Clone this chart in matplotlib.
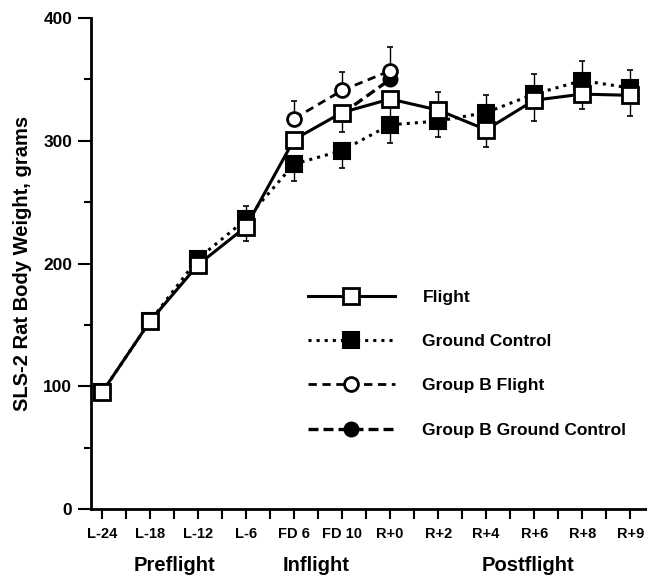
import numpy as np
import matplotlib
matplotlib.use("Agg")
import matplotlib.pyplot as plt
from matplotlib.ticker import MultipleLocator

plt.rcParams['font.family'] = ['Liberation Sans', 'DejaVu Sans']
plt.rcParams['font.weight'] = 'bold'

# data
days = ["L-24", "L-18", "L-12", "L-6", "FD 6", "FD 10", "R+0",
        "R+2", "R+4", "R+6", "R+8", "R+9"]
flight = [95, 153, 199, 230, 301, 323, 334, 325, 309, 333, 338, 337]
ground = [95, 153, 204, 236, 281, 292, 313, 316, 323, 338, 349, 343]
gb_flight = [np.nan] * 4 + [318, 341, 357] + [np.nan] * 5
gb_ground = [np.nan] * 5 + [322, 350] + [np.nan] * 5

flight_lo = [0, 0, 0, 12, 0, 16, 20, 0, 14, 17, 12, 17]
flight_hi = [0, 0, 0, 0, 0, 0, 0, 15, 0, 0, 0, 0]
ground_lo = [0, 0, 0, 0, 14, 14, 15, 13, 0, 0, 0, 0]
ground_hi = [0, 0, 0, 11, 0, 0, 0, 0, 14, 16, 16, 15]
gb_flight_hi = [0] * 4 + [14, 15, 19] + [0] * 5

phases = ["Preflight", "Inflight", "Postflight"]
phase_x = [1.5, 4.46, 8.88]

x = np.arange(len(days))

fig = plt.figure(figsize=(6.47, 5.78), dpi=100)
ax = fig.add_axes([91 / 647, 69 / 578, 556 / 647, 491 / 578])

eb = dict(fmt='none', ecolor='black', elinewidth=1.0, capsize=2.5,
          capthick=1.2, zorder=1)
ax.errorbar(x, flight, yerr=[flight_lo, flight_hi], **eb)
ax.errorbar(x, ground, yerr=[ground_lo, ground_hi], **eb)
ax.errorbar(x, gb_flight, yerr=[[0] * 12, gb_flight_hi], **eb)

l_ground, = ax.plot(x, ground, linestyle=':', color='black', lw=2.2,
                    marker='s', ms=11, mfc='black', mec='black', mew=1.5,
                    zorder=2, label="Ground Control")
l_gbg, = ax.plot(x, gb_ground, linestyle=(0, (3, 1.5)), color='black', lw=2.4,
                 marker='o', ms=10, mfc='black', mec='black', mew=1.5,
                 zorder=2.5, label="Group B Ground Control")
l_flight, = ax.plot(x, flight, linestyle='-', color='black', lw=2.2,
                    marker='s', ms=11, mfc='white', mec='black', mew=2,
                    zorder=3, label="Flight")
l_gbf, = ax.plot(x, gb_flight, linestyle=(0, (3, 2)), color='black', lw=2,
                 marker='o', ms=10, mfc='white', mec='black', mew=2,
                 zorder=3, label="Group B Flight")

ax.set_xlim(-0.23, 11.35)
ax.set_ylim(0, 400)
ax.set_xticks(x)
ax.set_xticklabels(days, fontsize=10.5, fontweight='bold')
ax.xaxis.set_minor_locator(MultipleLocator(0.5))
ax.set_yticks([0, 100, 200, 300, 400])
ax.yaxis.set_minor_locator(MultipleLocator(50))
ax.tick_params(axis='x', which='both', direction='out', length=7, width=1.5, pad=6)
ax.tick_params(axis='y', which='major', direction='out', length=9.5, width=1.5,
               pad=4, labelsize=12.5)
ax.tick_params(axis='y', which='minor', direction='out', length=5, width=1.5)
for lab in ax.get_yticklabels():
    lab.set_fontweight('bold')

for side in ['top', 'right']:
    ax.spines[side].set_visible(False)
for side in ['left', 'bottom']:
    ax.spines[side].set_linewidth(2)

ax.set_ylabel("SLS-2 Rat Body Weight, grams", fontsize=14.5, fontweight='bold',
              labelpad=8)

for name, px in zip(phases, phase_x):
    ax.text(px, -0.115, name, transform=ax.get_xaxis_transform(),
            ha='center', va='center', fontsize=14.5, fontweight='bold')

ax.legend(handles=[l_flight, l_ground, l_gbf, l_gbg], loc='upper left',
          bbox_to_anchor=(0.39, 0.447), frameon=False, numpoints=1,
          handlelength=5, handletextpad=1.6, labelspacing=1.68,
          borderpad=0, borderaxespad=0,
          prop={'size': 12.5, 'weight': 'bold'})

fig.savefig("out.png", dpi=100)
